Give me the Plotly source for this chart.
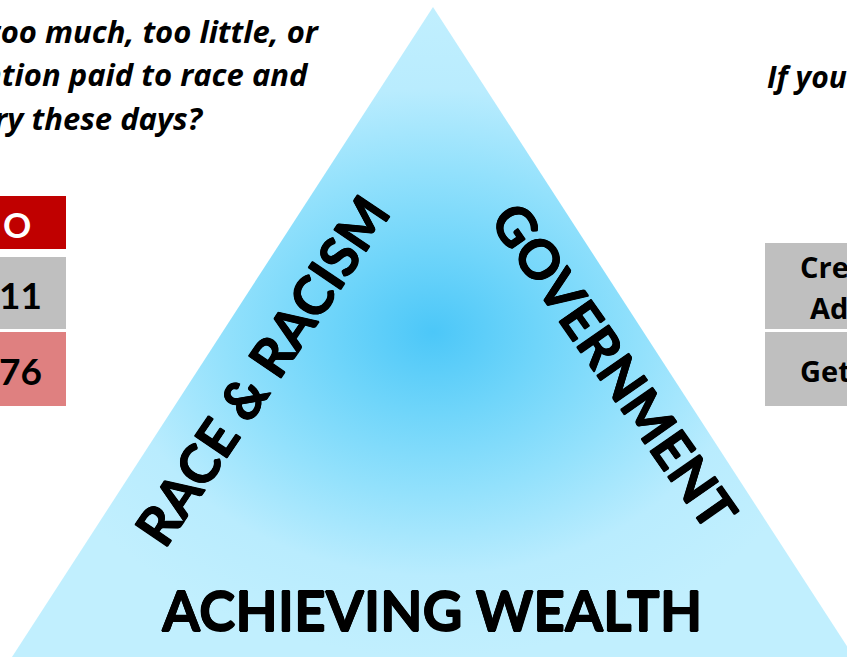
import plotly.graph_objects as go

# ---- data ----
triangle_x = [433, 12, 854, 433]
triangle_y = [7, 657, 657, 7]
triangle_colors = [[0.0, "#4cc7f8"], [0.25, "#6fd5fa"], [0.5, "#93e1fc"], [0.75, "#b9ecfe"], [1.0, "#c1effe"]]

side_labels = ["RACE & RACISM", "GOVERNMENT"]
base_label = "ACHIEVING WEALTH"

left_question = ["too much, too little, or",
                 "attention paid to race and",
                 "country these days?"]
right_question = "If you had to choose"

left_header = "O"
left_values = ["11", "76"]
left_colors = ["#c00000", "#bfbfbf", "#df8080"]

right_rows = [["Create", "Address"], ["Get"]]

BIG = "Lato"
TXT = "Open Sans"
THICK = "0.6px 0 0 #000, -0.6px 0 0 #000, 0 0.6px 0 #000, 0 -0.6px 0 #000"

fig = go.Figure()

fig.add_trace(go.Scatter(
    x=triangle_x, y=triangle_y, mode="lines", fill="toself",
    line=dict(width=0, color="rgba(0,0,0,0)"),
    fillgradient=dict(type="radial", colorscale=triangle_colors),
    hoverinfo="skip", showlegend=False,
))

shapes = []
left_rows_y = [(196, 249), (257, 329), (332, 406)]
for (y0, y1), col in zip(left_rows_y, left_colors):
    shapes.append(dict(type="rect", xref="x", yref="y", x0=-60, x1=66, y0=y0, y1=y1,
                       fillcolor=col, line=dict(width=0), layer="below"))
right_rows_y = [(243, 329), (332, 406)]
for (y0, y1) in right_rows_y:
    shapes.append(dict(type="rect", xref="x", yref="y", x0=765, x1=900, y0=y0, y1=y1,
                       fillcolor="#bfbfbf", line=dict(width=0), layer="below"))

ann = []
ann.append(dict(x=261, y=370, text=f"<b>{side_labels[0]}</b>", textangle=-56,
                font=dict(family=BIG, size=54, color="black", shadow=THICK), showarrow=False,
                xanchor="center", yanchor="middle"))
ann.append(dict(x=615, y=365, text=f"<b>{side_labels[1]}</b>", textangle=55,
                font=dict(family=BIG, size=54, color="black", shadow=THICK), showarrow=False,
                xanchor="center", yanchor="middle"))
ann.append(dict(x=431, y=610, text=f"<b>{base_label}</b>",
                font=dict(family=BIG, size=55, color="black", shadow=THICK), showarrow=False,
                xanchor="center", yanchor="middle"))

q_right = [322, 311, 206]
q_y = [31, 74, 118]
for t, xr, yy in zip(left_question, q_right, q_y):
    ann.append(dict(x=xr, y=yy, text=f"<b><i>{t}</i></b>", showarrow=False,
                    font=dict(family=TXT, size=31, color="black"),
                    xanchor="right", yanchor="middle"))
ann.append(dict(x=765, y=76, text=f"<b><i>{right_question}</i></b>", showarrow=False,
                font=dict(family=TXT, size=30, color="black"),
                xanchor="left", yanchor="middle"))

ann.append(dict(x=33, y=224, text=f"<b>{left_header}</b>", showarrow=False,
                font=dict(family=BIG, size=35, color="white"), xanchor="right", yanchor="middle"))
for v, (y0, y1) in zip(left_values, left_rows_y[1:]):
    ann.append(dict(x=20, y=(y0 + y1) / 2 + 1, text=f"<b>{v}</b>", showarrow=False,
                    font=dict(family=BIG, size=37, color="black"), xanchor="center", yanchor="middle"))

ann.append(dict(x=798, y=266, text=f"<b>{right_rows[0][0]}</b>", showarrow=False,
                font=dict(family=TXT, size=29, color="black"), xanchor="left", yanchor="middle"))
ann.append(dict(x=808, y=307, text=f"<b>{right_rows[0][1]}</b>", showarrow=False,
                font=dict(family=TXT, size=29, color="black"), xanchor="left", yanchor="middle"))
ann.append(dict(x=798, y=370, text=f"<b>{right_rows[1][0]}</b>", showarrow=False,
                font=dict(family=TXT, size=29, color="black"), xanchor="left", yanchor="middle"))

fig.update_layout(
    width=847, height=657,
    margin=dict(l=0, r=0, t=0, b=0),
    paper_bgcolor="white", plot_bgcolor="white",
    xaxis=dict(range=[0, 847], visible=False, fixedrange=True),
    yaxis=dict(range=[657, 0], visible=False, fixedrange=True),
    shapes=shapes, annotations=ann, showlegend=False,
)

fig.write_html("out.html", config={"displayModeBar": False},
               post_script="document.body.style.margin='0';document.body.style.overflow='hidden';")
